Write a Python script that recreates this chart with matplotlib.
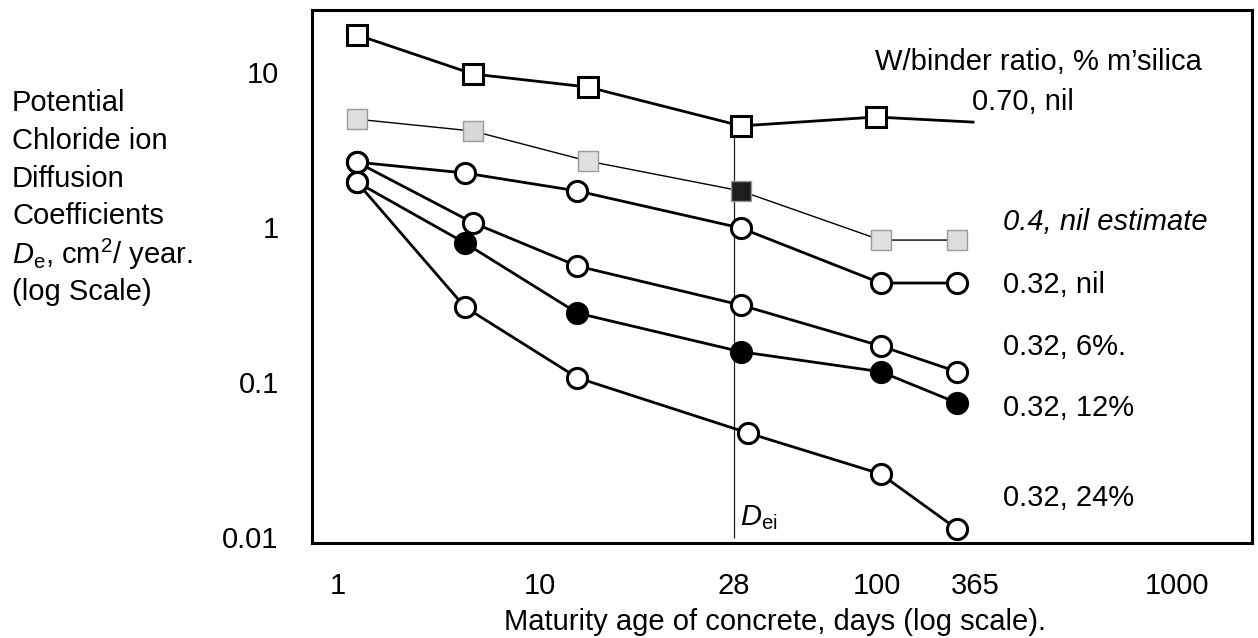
import numpy as np
import matplotlib
matplotlib.use("Agg")
import matplotlib.pyplot as plt

plt.rcParams['font.family'] = ['Liberation Sans', 'DejaVu Sans']
plt.rcParams['mathtext.fontset'] = 'custom'
plt.rcParams['mathtext.rm'] = 'Liberation Sans'
plt.rcParams['mathtext.it'] = 'Liberation Sans:italic'

# ---- data (days, De cm2/year) ----
days_070 = [1.24, 4.66, 12.9, 29.8, 99.1, 356]
de_070 = [17.3, 9.66, 7.96, 4.47, 5.10, 4.73]   # last value is the line end, no marker

days_040 = [1.24, 4.66, 12.9, 29.8, 105, 288]
de_040 = [4.94, 4.14, 2.65, 1.70, 0.82, 0.82]

days_nil = [1.24, 4.25, 12.2, 29.8, 105, 288]
de_nil = [2.61, 2.22, 1.70, 0.98, 0.433, 0.433]

days_6 = [1.24, 4.66, 12.2, 29.8, 105, 288]
de_6 = [2.61, 1.06, 0.557, 0.312, 0.170, 0.116]

days_12 = [1.24, 4.25, 12.2, 29.8, 105, 288]
de_12 = [1.94, 0.785, 0.277, 0.156, 0.116, 0.073]

days_24 = [1.24, 4.25, 12.2, 31.7, 105, 288]
de_24 = [1.94, 0.303, 0.106, 0.0467, 0.0254, 0.0112]

x_ticks = [1, 10, 28, 100, 365, 1000]
x_labels = ['1', '10', '28', '100', '365', '1000']
y_ticks = [10, 1, 0.1, 0.01]
y_labels = ['10', '1', '0.1', '0.01']

series_labels = ['0.70, nil', '0.4, nil estimate', '0.32, nil',
                 '0.32, 6%.', '0.32, 12%', '0.32, 24%']

# ---- the uneven "log" day axis: piecewise log scale through the tick days ----
tick_pos = np.array([338, 540, 734, 877, 975, 1177], dtype=float)
log_t = np.log10(x_ticks)
log_ext = np.concatenate([[log_t[0] - 1], log_t, [log_t[-1] + 1]])
pos_ext = np.concatenate([[tick_pos[0] - 202], tick_pos, [tick_pos[-1] + 461]])


def fwd(x):
    x = np.clip(np.asarray(x, dtype=float), 1e-6, None)
    return np.interp(np.log10(x), log_ext, pos_ext)


def inv(p):
    return 10 ** np.interp(np.asarray(p, dtype=float), pos_ext, log_ext)


W, H = 1258, 638
fig = plt.figure(figsize=(W / 100, H / 100), dpi=100)
ax = fig.add_axes([312 / W, (H - 542.7) / H, 940 / W, 532.7 / H])
ax.set_xscale('function', functions=(fwd, inv))
ax.set_yscale('log')
ax.set_xlim(inv(312), inv(1252))
ax.set_ylim(10 ** -2.0387, 10 ** 1.398)

FS = 21
ax.set_xticks(x_ticks)
ax.set_xticklabels(x_labels)
ax.set_yticks(y_ticks)
ax.set_yticklabels(y_labels)
ax.minorticks_off()
ax.tick_params(axis='x', length=0, pad=21, labelsize=FS)
ax.tick_params(axis='y', length=0, pad=24, labelsize=FS)
for s in ax.spines.values():
    s.set_linewidth(2.2)

# 28 day marker line
ax.vlines(28, 0.0098, de_070[3], colors='#222222', lw=0.9, zorder=1)
ax.text(0.455, 0.02, r'$D_{\rm ei}$', transform=ax.transAxes, fontsize=FS, va='bottom')

ms = 15
# 0.70, nil : open squares, last point is line only
ax.plot(days_070, de_070, '-', color='black', lw=2.0, zorder=2)
ax.plot(days_070[:-1], de_070[:-1], 's', ms=ms, mfc='white', mec='black', mew=2.2, zorder=3)

# 0.4 estimate: grey squares, thin line, 28-day point dark
ax.plot(days_040, de_040, '-', color='black', lw=1.0, zorder=2)
grey_fill = ['#dedede', '#d8d8d8', '#e0e0e0', '#1e1e1e', '#e0e0e0', '#dcdcdc']
for d, v, c in zip(days_040, de_040, grey_fill):
    ax.plot(d, v, 's', ms=ms - 0.5, mfc=c, mec='#9a9a9a', mew=1.0, zorder=3)

# 0.32 series: circles
for dd, vv, fill in [(days_nil, de_nil, 'white'), (days_6, de_6, 'white'),
                     (days_12, de_12, 'black'), (days_24, de_24, 'white')]:
    ax.plot(dd, vv, '-o', color='black', lw=2.0, ms=ms - 0.5, mfc=fill, mec='black', mew=2.2,
            zorder=3, clip_on=False)

# series labels
ax.text(0.599, 0.902, 'W/binder ratio, % m’silica', transform=ax.transAxes, fontsize=FS, va='center')
lab_xy = [(0.702, 0.827), (0.735, 0.602), (0.735, 0.484), (0.735, 0.367), (0.735, 0.253), (0.735, 0.084)]
for (tx, ty), lab in zip(lab_xy, series_labels):
    ax.text(tx, ty, lab, transform=ax.transAxes, fontsize=FS, va='center',
            style='italic' if 'estimate' in lab else 'normal')

# y axis title, left side, one line each
ylines = ['Potential', 'Chloride ion', 'Diffusion', 'Coefficients',
          r'$\mathit{D}_{\rm e}$, cm$^{\rm 2}$/ year.', '(log Scale)']
for i, t in enumerate(ylines):
    fig.text(12 / W, 1 - (103 + 37.8 * i) / H, t, fontsize=FS, va='center', ha='left')

fig.text(775 / W, 1 - 622 / H, 'Maturity age of concrete, days (log scale).', fontsize=FS,
         ha='center', va='center')

fig.savefig('out.png', dpi=100)
